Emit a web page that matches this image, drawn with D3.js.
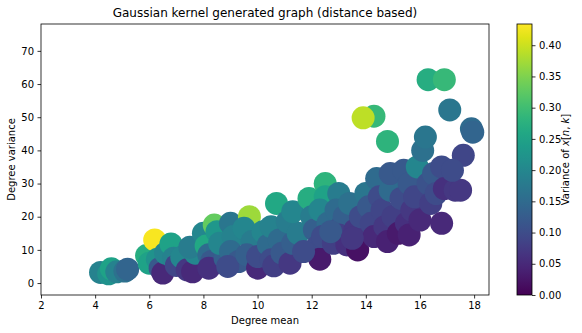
<!DOCTYPE html>
<html>
<head>
<meta charset="utf-8">
<script src="https://cdn.jsdelivr.net/npm/d3@7"></script>
<style>
  body { margin: 0; background: #fff; }
  text { font-family: "DejaVu Sans", sans-serif; fill: #000; }
</style>
</head>
<body>
<svg id="chart" width="582" height="333"></svg>
<script>
//--------------- data
var degreeMean = [4.2,4.5,4.6,4.8,5.1,5.2,5.9,6.0,6.2,6.3,6.4,6.5,6.6,6.8,6.9,7.0,7.2,7.4,7.6,7.7,
  7.5,8.0,8.4,8.1,8.5,8.2,8.3,8.2,8.8,8.6,9.0,9.1,9.0,9.3,8.9,9.7,9.5,9.8,9.6,10.0,
  10.0,10.2,10.4,10.5,10.7,10.5,10.6,10.8,10.9,11.1,11.2,11.3,11.5,11.3,11.9,12.0,12.1,12.2,12.3,12.5,
  12.5,12.3,12.6,12.4,12.8,13.0,12.9,13.1,13.2,13.0,13.3,13.4,13.7,13.6,13.8,14.3,13.9,14.8,14.0,14.1,
  14.2,14.3,14.4,14.5,14.6,14.7,14.8,14.9,14.9,15.0,15.2,15.3,15.4,15.5,15.6,15.7,15.8,15.9,15.6,16.0,
  16.1,16.2,16.3,16.3,16.4,16.5,16.6,16.8,16.9,16.8,16.9,17.1,17.3,17.5,17.6,17.9,17.95,17.2,
  11.7,12.7,13.5];
var degreeVar = [3.2,2.8,4.3,3.4,3.6,4.2,8.3,6.0,13.0,7.2,4.5,3.0,9.0,11.8,7.5,5.3,7.8,4.0,3.4,9.0,
  10.8,15.0,17.5,11.2,15.5,8.5,6.5,4.5,7.5,12.0,18.0,14.0,9.5,6.5,5.0,20.0,16.5,12.5,8.5,4.5,
  8.0,15.5,11.5,7.0,24.0,17.0,5.2,13.0,9.0,18.5,6.0,12.0,15.0,21.5,25.5,20.0,16.0,11.0,7.2,30.0,
  26.0,22.0,18.0,14.0,12.0,27.0,22.0,17.0,20.0,14.5,11.5,24.0,10.0,16.0,20.0,50.3,49.8,42.7,27.0,23.0,
  18.0,14.0,31.5,26.0,22.0,17.0,12.5,28.0,33.0,20.0,15.0,25.5,34.0,18.0,30.0,22.0,26.0,35.0,14.5,19.0,
  40.0,44.0,30.0,61.3,24.0,33.0,27.0,18.0,61.3,35.0,28.5,52.2,28.0,28.0,38.5,46.5,45.5,34.0,
  9.5,15.5,13.5];
var variance = [0.19,0.22,0.25,0.19,0.16,0.14,0.27,0.25,0.43,0.22,0.12,0.05,0.20,0.25,0.19,0.09,0.20,0.07,0.05,0.20,
  0.18,0.20,0.33,0.26,0.23,0.15,0.12,0.06,0.13,0.20,0.17,0.19,0.15,0.12,0.10,0.37,0.20,0.18,0.13,0.05,
  0.10,0.20,0.15,0.10,0.26,0.19,0.08,0.15,0.12,0.18,0.07,0.13,0.18,0.20,0.27,0.18,0.13,0.10,0.03,0.28,
  0.25,0.20,0.15,0.10,0.08,0.18,0.15,0.10,0.13,0.08,0.06,0.16,0.02,0.07,0.10,0.29,0.39,0.28,0.17,0.12,
  0.09,0.05,0.15,0.10,0.09,0.07,0.04,0.15,0.12,0.08,0.03,0.10,0.12,0.06,0.12,0.07,0.09,0.20,0.04,0.05,
  0.16,0.17,0.11,0.27,0.08,0.12,0.10,0.05,0.29,0.10,0.06,0.17,0.07,0.07,0.09,0.15,0.14,0.10,
  0.10,0.12,0.07];

var xTicks = [2, 4, 6, 8, 10, 12, 14, 16, 18];
var yTicks = [0, 10, 20, 30, 40, 50, 60, 70];
var cTicks = [0.00, 0.05, 0.10, 0.15, 0.20, 0.25, 0.30, 0.35, 0.40];

//--------------- layout
var plot = {left: 41, right: 489, top: 24, bottom: 295};
var cbar = {left: 517, right: 532, top: 24, bottom: 295};

var svg = d3.select("#chart");

var xScale = d3.scaleLinear().domain([2, 18.55]).range([plot.left, plot.right]);
var yScale = d3.scaleLinear().domain([-3.6, 78.1]).range([plot.bottom, plot.top]);
var cMax = 0.434;
var cScale = d3.scaleLinear().domain([0, cMax]).range([cbar.bottom, cbar.top]);
var color = function(v) { return d3.interpolateViridis(v / cMax); };

// clip for markers
svg.append("clipPath").attr("id", "clip")
  .append("rect")
  .attr("x", plot.left).attr("y", plot.top)
  .attr("width", plot.right - plot.left).attr("height", plot.bottom - plot.top);

var points = degreeMean.map(function(d, i) {
  return {x: d, y: degreeVar[i], c: variance[i]};
});

svg.append("g").attr("clip-path", "url(#clip)")
  .selectAll("circle")
  .data(points)
  .enter().append("circle")
  .attr("cx", function(d) { return xScale(d.x); })
  .attr("cy", function(d) { return yScale(d.y); })
  .attr("r", 11.5)
  .attr("fill", function(d) { return color(d.c); });

// -- axes
var xAxis = d3.axisBottom(xScale).tickValues(xTicks).tickSize(3.5).tickPadding(3.5)
  .tickFormat(d3.format("d"));
var gx = svg.append("g")
  .attr("transform", "translate(0," + plot.bottom + ")")
  .call(xAxis);

var yAxis = d3.axisLeft(yScale).tickValues(yTicks).tickSize(3.5).tickPadding(3.5)
  .tickFormat(d3.format("d"));
var gy = svg.append("g")
  .attr("transform", "translate(" + plot.left + ",0)")
  .call(yAxis);

[gx, gy].forEach(function(g) {
  g.select(".domain").remove();
  g.selectAll("text").attr("font-size", "10px").attr("font-family", "DejaVu Sans");
  g.selectAll("line").attr("stroke", "#000").attr("stroke-width", 0.8);
});

// frame
svg.append("rect")
  .attr("x", plot.left).attr("y", plot.top)
  .attr("width", plot.right - plot.left).attr("height", plot.bottom - plot.top)
  .attr("fill", "none").attr("stroke", "#000").attr("stroke-width", 0.8);

// labels
svg.append("text")
  .attr("x", (plot.left + plot.right) / 2).attr("y", 17)
  .attr("text-anchor", "middle").attr("font-size", "12px")
  .text("Gaussian kernel generated graph (distance based)");

svg.append("text")
  .attr("x", (plot.left + plot.right) / 2).attr("y", 324)
  .attr("text-anchor", "middle").attr("font-size", "10px")
  .text("Degree mean");

svg.append("text")
  .attr("transform", "translate(15," + ((plot.top + plot.bottom) / 2) + ") rotate(-90)")
  .attr("text-anchor", "middle").attr("font-size", "10px")
  .text("Degree variance");

//--------------- colorbar
var grad = svg.append("defs").append("linearGradient")
  .attr("id", "viridis").attr("x1", 0).attr("y1", 1).attr("x2", 0).attr("y2", 0);
d3.range(0, 1.0001, 0.05).forEach(function(t) {
  grad.append("stop").attr("offset", t).attr("stop-color", d3.interpolateViridis(t));
});

svg.append("rect")
  .attr("x", cbar.left).attr("y", cbar.top)
  .attr("width", cbar.right - cbar.left).attr("height", cbar.bottom - cbar.top)
  .attr("fill", "url(#viridis)").attr("stroke", "#000").attr("stroke-width", 0.8);

var cAxis = d3.axisRight(cScale).tickValues(cTicks).tickSize(3.5).tickPadding(3.5)
  .tickFormat(d3.format(".2f"));
var gc = svg.append("g")
  .attr("transform", "translate(" + cbar.right + ",0)")
  .call(cAxis);
gc.select(".domain").remove();
gc.selectAll("text").attr("font-size", "10px").attr("font-family", "DejaVu Sans");
gc.selectAll("line").attr("stroke", "#000").attr("stroke-width", 0.8);

var cLabel = svg.append("text")
  .attr("transform", "translate(569," + ((cbar.top + cbar.bottom) / 2) + ") rotate(-90)")
  .attr("text-anchor", "middle").attr("font-size", "10px");
cLabel.append("tspan").text("Variance of ");
cLabel.append("tspan").attr("font-style", "italic").text("x");
cLabel.append("tspan").text("[");
cLabel.append("tspan").attr("font-style", "italic").text("n");
cLabel.append("tspan").text(", ");
cLabel.append("tspan").attr("font-style", "italic").text("k");
cLabel.append("tspan").text("]");
</script>
</body>
</html>
